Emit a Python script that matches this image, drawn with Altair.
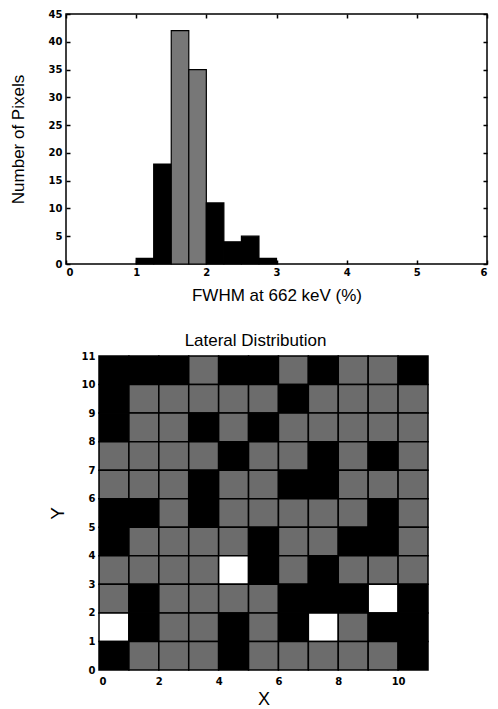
import altair as alt
import pandas as pd

# ---- Histogram data ----
bin_edges = [1.0, 1.25, 1.5, 1.75, 2.0, 2.25, 2.5, 2.75, 3.0]
counts = [1, 18, 42, 35, 11, 4, 5, 1]
bar_shade = ["B", "B", "G", "G", "B", "B", "B", "B"]

# ---- Lateral distribution (rows listed from top y=10 to bottom y=0) ----
grid_rows = [
    "BBBGBBGBGGB",
    "BGGGGGBGGGG",
    "BGGBGBGGGGG",
    "GGGGBGGBGBG",
    "GGGBGGBBGGG",
    "BBGBGGGGGBG",
    "BGGGGBGGBBG",
    "GGGGWBGBGGG",
    "GBGGGGBBBWB",
    "WBGGBGBWGBB",
    "BGGGBGGGGGB",
]
x_ticks = [0, 2, 4, 6, 8, 10]
y_ticks = list(range(12))

BAR_GREY = "#777777"
CELL_GREY = "#6c6c6c"
TITLE_FONT = "Liberation Sans"
LABEL_FONT = "DejaVu Sans"

hist = pd.DataFrame({
    "lo": bin_edges[:-1],
    "hi": bin_edges[1:],
    "count": counts,
    "shade": bar_shade,
})

cells = []
n = len(grid_rows)
for r, row in enumerate(grid_rows):
    yv = n - 1 - r
    for xv, s in enumerate(row):
        cells.append({"x": xv, "x2": xv + 1, "y": yv, "y2": yv + 1, "cell": s})
grid = pd.DataFrame(cells)

lab = dict(labelFont=LABEL_FONT, labelFontWeight="bold", labelFontSize=10, labelColor="black")

xs = alt.Scale(domain=[0, 6], nice=False)
ys = alt.Scale(domain=[0, 45], nice=False)

bars = alt.Chart(hist).mark_rect(stroke="black", strokeWidth=1.2).encode(
    x=alt.X("lo:Q", scale=xs, axis=alt.Axis(
        values=[0, 1, 2, 3, 4, 5, 6], offset=-4, tickSize=4, tickWidth=1.5, tickColor="black",
        domain=False, grid=False, labelPadding=3, title="FWHM at 662 keV (%)",
        titleFont=TITLE_FONT, titleFontSize=17, titleFontWeight="normal", titlePadding=10, **lab)),
    x2="hi:Q",
    y=alt.Y("count:Q", scale=ys, axis=alt.Axis(
        values=list(range(0, 46, 5)), offset=-4, tickSize=4, tickWidth=1.5, tickColor="black",
        domain=False, grid=False, labelPadding=4, title="Number of Pixels",
        titleFont=TITLE_FONT, titleFontSize=17, titleFontWeight="normal", titlePadding=21, **lab)),
    color=alt.Color("shade:N", scale=alt.Scale(domain=["B", "G"], range=["black", BAR_GREY]), legend=None),
)

mirror = alt.Chart(hist).mark_rect(opacity=0).encode(
    x=alt.X("lo:Q", scale=xs, axis=alt.Axis(
        orient="top", values=[0, 1, 2, 3, 4, 5, 6], offset=-4, tickSize=4, tickWidth=1.5,
        tickColor="black", domain=False, grid=False, labels=False, title=None,
        minExtent=0, maxExtent=0)),
    x2="hi:Q",
    y=alt.Y("count:Q", scale=ys, axis=alt.Axis(
        orient="right", values=list(range(0, 46, 5)), offset=-4, tickSize=4, tickWidth=1.5,
        tickColor="black", domain=False, grid=False, labels=False, title=None,
        minExtent=0, maxExtent=0)),
)

top = alt.layer(bars, mirror).resolve_axis(x="independent", y="independent").properties(
    width=421, height=250,
    view=alt.ViewBackground(stroke="black", strokeWidth=1.5),
)

bottom = alt.Chart(grid).mark_rect(stroke="black", strokeWidth=1.5).encode(
    x=alt.X("x:Q", scale=alt.Scale(domain=[0, 11], range=[33, 362], nice=False), axis=alt.Axis(
        values=x_ticks, ticks=False, domain=False, grid=False, labelPadding=6, title="X",
        titleFont=TITLE_FONT, titleFontSize=18, titleFontWeight="normal", titlePadding=4, **lab)),
    x2="x2:Q",
    y=alt.Y("y:Q", scale=alt.Scale(domain=[0, 11], nice=False), axis=alt.Axis(
        values=y_ticks, ticks=False, domain=False, grid=False, offset=-33, labelPadding=4, title="Y",
        titleFont=TITLE_FONT, titleFontSize=19, titleFontWeight="normal", titlePadding=14, **lab)),
    y2="y2:Q",
    color=alt.Color("cell:N", scale=alt.Scale(domain=["B", "G", "W"], range=["black", CELL_GREY, "white"]),
                    legend=None),
).properties(
    width=421, height=314,
    title=alt.TitleParams("Lateral Distribution", font=TITLE_FONT, fontSize=17, fontWeight="normal",
                          anchor="middle", frame="group", dx=-21, offset=1),
    view=alt.ViewBackground(strokeOpacity=0),
)

chart = alt.vconcat(top, bottom, spacing=28).resolve_scale(color="independent").properties(
    padding={"left": 0, "top": 0, "right": 0, "bottom": 0},
).configure(background="white")

chart.save("out.html", embed_options={"renderer": "svg", "actions": False})
